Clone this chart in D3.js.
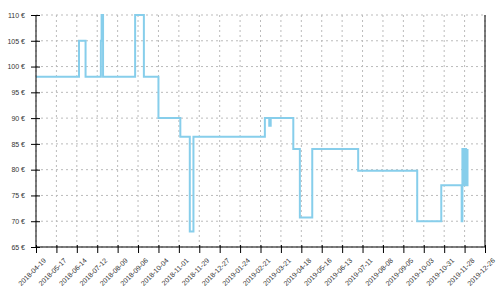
<!DOCTYPE html>
<html>
<head>
<meta charset="utf-8">
<script src="https://cdn.jsdelivr.net/npm/d3@7"></script>
<style>
body { margin: 0; background: #fff; }
svg text { font-family: "Liberation Sans", Arial, sans-serif; font-size: 7px; fill: #333; }
</style>
</head>
<body>
<div id="chart"></div>
<script>
// price history (step after each change)
const dates = ["2018-04-19", "2018-06-17", "2018-06-26", "2018-07-17", "2018-07-18", "2018-07-20",
  "2018-09-02", "2018-09-14", "2018-10-04", "2018-11-03", "2018-11-16", "2018-11-21",
  "2019-02-27", "2019-03-05", "2019-03-07", "2019-04-07", "2019-04-16", "2019-05-03",
  "2019-07-05", "2019-09-24", "2019-10-27", "2019-11-24", "2019-11-25", "2019-11-26",
  "2019-11-27", "2019-11-28", "2019-11-29", "2019-11-30", "2019-12-02"];
const prices = [98, 105, 98, 105, 110, 98, 110, 98, 90, 86.4, 68, 86.4,
  90, 88.5, 90, 84, 70.7, 84, 79.8, 70, 77, 70, 84, 77, 84, 77, 84, 77, 84];

const xTickLabels = ["2018-04-19", "2018-05-17", "2018-06-14", "2018-07-12", "2018-08-09",
  "2018-09-06", "2018-10-04", "2018-11-01", "2018-11-29", "2018-12-27", "2019-01-24",
  "2019-02-21", "2019-03-21", "2019-04-18", "2019-05-16", "2019-06-13", "2019-07-11",
  "2019-08-08", "2019-09-05", "2019-10-03", "2019-10-31", "2019-11-28", "2019-12-26"];
const yTicks = [65, 70, 75, 80, 85, 90, 95, 100, 105, 110];

const W = 500, H = 300;
const margin = {top: 15, right: 15, bottom: 53, left: 36};
const width = W - margin.left - margin.right,
  height = H - margin.top - margin.bottom;

const parse = d3.utcParse("%Y-%m-%d");
const data = dates.map((d, i) => ({date: parse(d), price: prices[i]}));
const xTicks = xTickLabels.map(parse);

const x = d3.scaleUtc()
  .domain([xTicks[0], xTicks[xTicks.length - 1]])
  .range([0, width]);
const y = d3.scaleLinear().domain([65, 110]).range([height, 0]);

const svg = d3.select("#chart").append("svg")
  .attr("width", W)
  .attr("height", H);

const g = svg.append("g")
  .attr("transform", `translate(${margin.left},${margin.top})`);

// grid
g.append("g").selectAll("line")
  .data(yTicks)
  .enter().append("line")
  .attr("x1", 0).attr("x2", width)
  .attr("y1", d => y(d)).attr("y2", d => y(d))
  .attr("stroke", "#bbb").attr("stroke-dasharray", "2,3");

g.append("g").selectAll("line")
  .data(xTicks)
  .enter().append("line")
  .attr("x1", d => x(d)).attr("x2", d => x(d))
  .attr("y1", 0).attr("y2", height)
  .attr("stroke", "#bbb").attr("stroke-dasharray", "2,3");

// price line
const line = d3.line()
  .x(d => x(d.date))
  .y(d => y(d.price))
  .curve(d3.curveStepAfter);

g.append("path")
  .datum(data)
  .attr("fill", "none")
  .attr("stroke", "#87ceeb")
  .attr("stroke-width", 2)
  .attr("d", line);

// axes
const xAxis = d3.axisBottom(x).tickValues(xTicks).tickFormat(d3.utcFormat("%Y-%m-%d")).tickSize(6);
const yAxis = d3.axisLeft(y).tickValues(yTicks).tickFormat(d => d + " €").tickSize(5);

const gx = g.append("g")
  .attr("transform", `translate(0,${height})`)
  .call(xAxis);
gx.select(".domain").remove();
gx.selectAll(".tick line").attr("y1", -2).attr("stroke", "#000");
gx.selectAll(".tick text")
  .attr("y", 0).attr("dy", 0)
  .style("text-anchor", "end")
  .attr("transform", "translate(10,14) rotate(-45)");

const gy = g.append("g").call(yAxis);
gy.select(".domain").remove();
gy.selectAll(".tick line").attr("x1", -5).attr("x2", 4).attr("stroke", "#000");
gy.selectAll(".tick text").attr("x", -11);

// axis lines
g.append("line").attr("x1", 0).attr("x2", 0).attr("y1", 0).attr("y2", height).attr("stroke", "#000");
g.append("line").attr("x1", 0).attr("x2", width).attr("y1", height).attr("y2", height).attr("stroke", "#000");
g.append("line").attr("x1", width).attr("x2", width).attr("y1", 0).attr("y2", height).attr("stroke", "#000");
</script>
</body>
</html>
